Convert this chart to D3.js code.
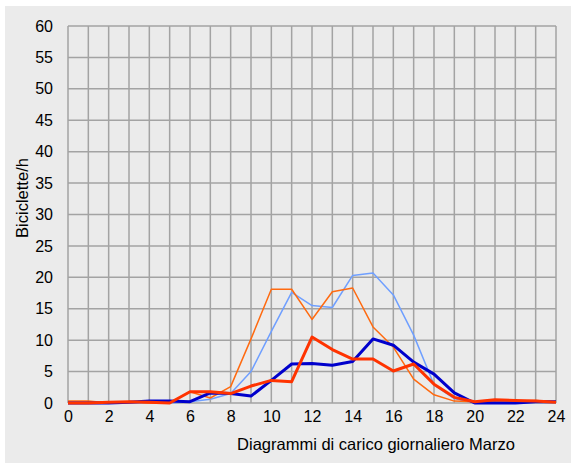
<!DOCTYPE html>
<html><head><meta charset="utf-8">
<script src="https://cdn.jsdelivr.net/npm/d3@7"></script>
<style>body{margin:0;background:#fff}svg{display:block}</style>
</head><body>
<svg id="c" width="571" height="465"></svg>
<script>
const hours = d3.range(0, 25);
const xTicks = [0,2,4,6,8,10,12,14,16,18,20,22,24];
const yTicks = [0,5,10,15,20,25,30,35,40,45,50,55,60];
const thinBlue   = [0,0,0,0,0,0,0.2,0.6,1.5,5.0,11.4,17.6,15.5,15.2,20.3,20.7,17.2,10.8,2.9,0.7,0,0,0,0.1,0.1];
const thinOrange = [0.3,0.3,0,0.2,0,0,1.8,0.8,2.6,10.2,18.1,18.1,13.3,17.7,18.3,12.1,8.9,3.8,1.3,0.3,0.2,0.3,0.3,0.4,0.2];
const thickBlue  = [0,0,0,0.1,0.3,0.3,0.2,1.6,1.5,1.1,3.6,6.2,6.3,6.0,6.6,10.2,9.2,6.5,4.6,1.6,0,0,0,0.2,0.2];
const thickRed   = [0,0,0.1,0.2,0.1,0,1.8,1.8,1.5,2.7,3.6,3.4,10.5,8.5,7.0,7.0,5.1,6.2,3.0,0.9,0.2,0.5,0.4,0.3,0.1];
const xTitle = "Diagrammi di carico giornaliero Marzo";
const yTitle = "Biciclette/h";

const svg = d3.select("#c");
const font = "'Liberation Sans', Arial, sans-serif";
svg.append("rect").attr("x",5).attr("y",6).attr("width",566).attr("height",457).attr("fill","#ebebeb");

const L=68, R=556, T=26, B=403;
const x = d3.scaleLinear().domain([0,24]).range([L,R]);
const y = d3.scaleLinear().domain([0,60]).range([B,T]);

const g = svg.append("g");
g.selectAll("line.v").data(hours).join("line")
  .attr("x1",d=>x(d)).attr("x2",d=>x(d)).attr("y1",T).attr("y2",B)
  .attr("stroke","#a3a3a3").attr("stroke-width",1.5);
g.selectAll("line.h").data(yTicks).join("line").attr("class","h")
  .attr("x1",L).attr("x2",R).attr("y1",d=>y(d)).attr("y2",d=>y(d))
  .attr("stroke","#a3a3a3").attr("stroke-width",1.5);

const xAxis = svg.append("g").attr("transform",`translate(0,${B})`)
  .call(d3.axisBottom(x).tickValues(xTicks).tickSize(0).tickPadding(8).tickFormat(d3.format("d")));
xAxis.select(".domain").remove();
xAxis.selectAll("text").attr("font-family",font).attr("font-size",16).attr("fill","#000");

const yAxis = svg.append("g").attr("transform",`translate(${L},0)`)
  .call(d3.axisLeft(y).tickValues(yTicks).tickSize(0).tickPadding(15).tickFormat(d3.format("d")));
yAxis.select(".domain").remove();
yAxis.selectAll("text").attr("font-family",font).attr("font-size",16).attr("fill","#000");

const line = d3.line().x((d,i)=>x(hours[i])).y(d=>y(d));
const series = [
  {v:thinBlue, c:"#6f9fff", w:1.5},
  {v:thinOrange, c:"#ff6a10", w:1.5},
  {v:thickBlue, c:"#0000cc", w:3},
  {v:thickRed, c:"#ff3300", w:3}
];
series.forEach(s=>{
  svg.append("path").attr("d",line(s.v)).attr("fill","none")
    .attr("stroke",s.c).attr("stroke-width",s.w).attr("stroke-linejoin","round");
});

svg.append("text").attr("x",376).attr("y",450).attr("text-anchor","middle")
  .attr("font-family",font).attr("font-size",16.5).text(xTitle);
svg.append("text").attr("transform","translate(28,198) rotate(-90)").attr("text-anchor","middle")
  .attr("font-family",font).attr("font-size",16.5).text(yTitle);
</script>
</body></html>
